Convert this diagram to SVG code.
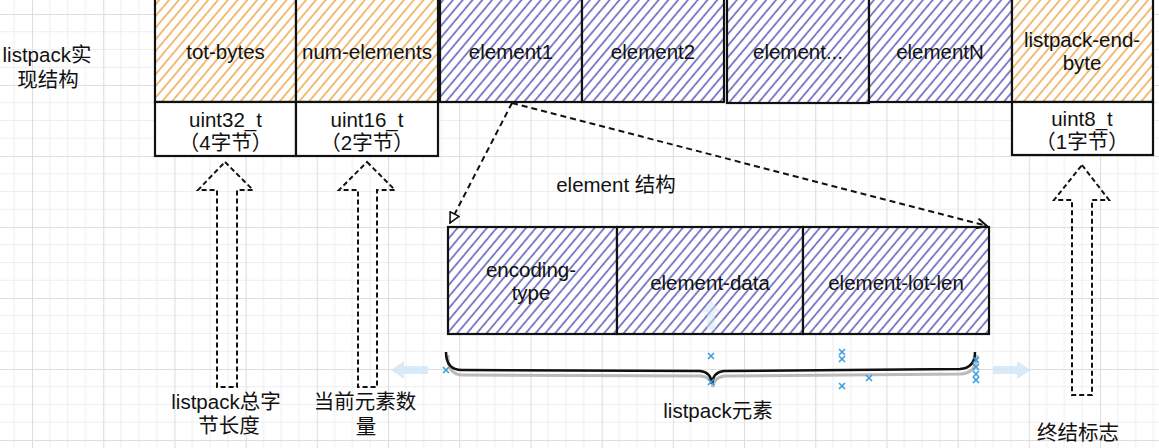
<svg xmlns="http://www.w3.org/2000/svg" width="1159" height="448" viewBox="0 0 1159 448">
<style>
text{font-family:"Liberation Sans","Noto Sans CJK SC",sans-serif;font-size:20.5px;fill:#111;text-anchor:middle}
.box{stroke:#111;stroke-width:2.2;}
.orange{fill:url(#hatchO)}
.purple{fill:url(#hatchP)}
.white{fill:#fff}
.dash{fill:none;stroke:#111;stroke-width:2;stroke-dasharray:6 4}
.blk{fill:none;stroke:#111;stroke-width:2;stroke-dasharray:5 3}
.xm{stroke:#3a9ee0;stroke-width:1.6;fill:none}
</style>
<defs>
<pattern id="grid" x="32" y="14" width="71.2" height="71" patternUnits="userSpaceOnUse">
<path d="M17.8 0V71M35.6 0V71M53.4 0V71M0 17.75H71.2M0 35.5H71.2M0 53.25H71.2" stroke="#eeeeee" stroke-width="1"/>
<path d="M0.5 0V71M0 0.5H71.2" stroke="#dedede" stroke-width="1.2"/>
</pattern>
<pattern id="hatchO" width="7.5" height="7.5" patternUnits="userSpaceOnUse" patternTransform="rotate(40)">
<rect width="7.5" height="7.5" fill="#fff"/>
<line x1="2" y1="0" x2="2" y2="7.5" stroke="#eda445" stroke-width="1.7" stroke-opacity="0.85"/>
</pattern>
<pattern id="hatchP" width="7.5" height="7.5" patternUnits="userSpaceOnUse" patternTransform="rotate(40)">
<rect width="7.5" height="7.5" fill="#fff"/>
<line x1="2" y1="0" x2="2" y2="7.5" stroke="#5252b5" stroke-width="1.7" stroke-opacity="0.85"/>
</pattern>
<marker id="arr" viewBox="0 0 12 12" refX="11" refY="6" markerWidth="12" markerHeight="12" markerUnits="userSpaceOnUse" orient="auto">
<path d="M1,1 L11,6 L1,11" fill="none" stroke="#111" stroke-width="2"/>
</marker>
<marker id="arrL" viewBox="0 0 12 12" refX="11" refY="6" markerWidth="12" markerHeight="12" markerUnits="userSpaceOnUse" orient="auto">
<path d="M1,1 L11,6 L1,11 Z" fill="#fff" stroke="#111" stroke-width="1.6"/>
</marker>
</defs>
<rect width="1159" height="448" fill="#fff"/>
<rect width="1159" height="448" fill="url(#grid)"/>

<g id="title">
<text x="47" y="62">listpack实</text>
<text x="48" y="87">现结构</text>
</g>

<g id="tot-bytes">
<rect class="box orange" x="155" y="-5" width="141" height="107"/>
<text x="225.5" y="59">tot-bytes</text>
<rect class="box white" x="155" y="102" width="141" height="54"/>
<text x="225.5" y="127">uint32_t</text>
<text x="225.5" y="150">（4字节）</text>
</g>
<g id="num-elements">
<rect class="box orange" x="296" y="-5" width="142" height="107"/>
<text x="367" y="59">num-elements</text>
<rect class="box white" x="296" y="102" width="142" height="54"/>
<text x="367" y="127">uint16_t</text>
<text x="367" y="150">（2字节）</text>
</g>
<g id="element1">
<rect class="box purple" x="440" y="-5" width="142" height="107"/>
<text x="511" y="59">element1</text>
</g>
<g id="element2">
<rect class="box purple" x="582" y="-5" width="142" height="107"/>
<text x="653" y="59">element2</text>
</g>
<g id="element-more">
<rect class="box purple" x="727" y="-5" width="142" height="108"/>
<text x="798" y="59">element...</text>
</g>
<g id="elementN">
<rect class="box purple" x="869" y="-5" width="143" height="107"/>
<text x="940" y="59">elementN</text>
</g>
<g id="listpack-end-byte">
<rect class="box orange" x="1012" y="-5" width="141" height="107"/>
<text x="1082" y="47">listpack-end-</text>
<text x="1082" y="70">byte</text>
<rect class="box white" x="1012" y="102" width="141" height="53"/>
<text x="1082" y="126">uint8_t</text>
<text x="1082" y="149">（1字节）</text>
</g>

<g id="element-struct-label">
<text x="616" y="192">element 结构</text>
</g>
<g id="encoding-type">
<rect class="box purple" x="448" y="227" width="169" height="107"/>
<text x="531" y="277">encoding-</text>
<text x="531" y="300">type</text>
</g>
<g id="element-data">
<rect class="box purple" x="617" y="227" width="186" height="107"/>
<text x="710" y="290">element-data</text>
</g>
<g id="element-lot-len">
<rect class="box purple" x="803" y="227" width="186" height="107"/>
<text x="896" y="290">element-lot-len</text>
</g>

<g id="connectors">
<path class="dash" d="M512 103 L450 223" marker-end="url(#arrL)"/>
<path class="dash" d="M512 103 L987 226" marker-end="url(#arr)"/>
<path class="blk" d="M225 162 L253 190 L237 190 L237 387 L217 387 L217 190 L198 190 Z"/>
<path class="blk" d="M367 162 L395 190 L377 190 L377 387 L358 387 L358 190 L339 190 Z"/>
<path class="blk" d="M1082 165 L1109 200 L1092 200 L1092 395 L1072 395 L1072 200 L1054 200 Z"/>
<path d="M447 352 Q446 372 462 372 L700 373 Q711 374 712 384 Q713 374 724 373 L960 371 Q976 370 976 352" fill="none" stroke="#bbb" stroke-width="3" transform="translate(1,3)"/>
<path d="M446 352 Q446 370 462 370 L700 371 Q711 372 712 384 Q713 372 724 371 L960 369 Q975 368 975 352" fill="none" stroke="#111" stroke-width="2.5"/>
<path d="M428 366 L404 366 L404 361 L391 370 L404 379 L404 374 L428 374 Z" fill="#cfe6f7" opacity="0.8"/>
<path d="M993 366 L1017 366 L1017 361 L1031 370 L1017 379 L1017 374 L993 374 Z" fill="#cfe6f7" opacity="0.8"/>
<path d="M707 330 L707 312 L702 312 L711 300 L720 312 L715 312 L715 330 Z" fill="#cfe6f7" opacity="0.5"/>
</g>

<g id="markers">
<path class="xm" d="M443 367l6 6M449 367l-6 6"/>
<path class="xm" d="M708 353l6 6M714 353l-6 6"/>
<path class="xm" d="M708 379l6 6M714 379l-6 6"/>
<path class="xm" d="M839 349l6 6M845 349l-6 6"/>
<path class="xm" d="M839 356l6 6M845 356l-6 6"/>
<path class="xm" d="M839 383l6 6M845 383l-6 6"/>
<path class="xm" d="M866 375l6 6M872 375l-6 6"/>
<path class="xm" d="M973 357l6 6M979 357l-6 6"/>
<path class="xm" d="M973 364l6 6M979 364l-6 6"/>
<path class="xm" d="M973 371l6 6M979 371l-6 6"/>
<path class="xm" d="M973 377l6 6M979 377l-6 6"/>
</g>

<g id="labels">
<text x="226" y="409">listpack总字</text>
<text x="229" y="433">节长度</text>
<text x="365" y="409">当前元素数</text>
<text x="366" y="434">量</text>
<text x="718" y="418">listpack元素</text>
<text x="1078" y="440">终结标志</text>
</g>
</svg>
